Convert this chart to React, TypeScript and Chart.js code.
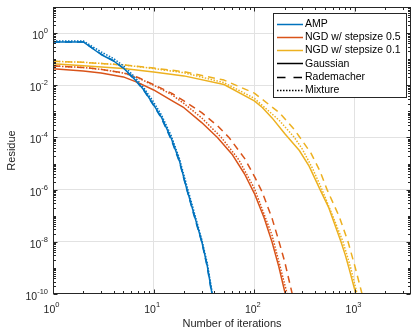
import React, { useEffect, useRef } from "react";
import { Chart, registerables } from "chart.js";

Chart.register(...registerables);

// ---------- data ----------
const AMP_T_GAUSS = [1, 2, 3, 4, 5, 6, 7, 8, 10, 12, 15, 18, 21, 25, 30, 34, 38, 40];
const AMP_R_GAUSS = [0.457, 0.457, 0.151, 0.0851, 0.0457, 0.0229, 0.0123, 0.0066, 1.78e-3, 5.75e-4, 8.9e-5, 1.29e-5, 1.32e-6, 1.26e-7, 1.05e-8, 1.26e-9, 1.0e-10, 2.5e-11];
const AMP_T_RADE = [1, 2, 3, 4, 5, 6, 7, 8, 10, 12, 15, 18, 21, 25, 30, 34, 38, 40];
const AMP_R_RADE = [0.457, 0.457, 0.158, 0.0871, 0.0447, 0.0219, 0.0117, 6.31e-3, 1.66e-3, 5.25e-4, 7.94e-5, 1.17e-5, 1.26e-6, 1.12e-7, 1.0e-8, 1.12e-9, 8.9e-11, 2.5e-11];
const AMP_T_MIX = [1, 2, 3, 4, 5, 6, 7, 8, 10, 12, 15, 18, 21, 25, 30, 34, 38, 40];
const AMP_R_MIX = [0.501, 0.501, 0.191, 0.105, 0.0562, 0.0282, 0.0148, 7.94e-3, 2.24e-3, 7.08e-4, 1.12e-4, 1.58e-5, 1.78e-6, 1.58e-7, 1.26e-8, 1.58e-9, 1.26e-10, 3.16e-11];

const NGD5_T_GAUSS = [1, 2, 3, 5, 7, 10, 15, 20, 30, 43, 60, 80, 100, 125, 150, 175, 203, 215];
const NGD5_R_GAUSS = [0.0427, 0.0355, 0.0295, 0.0209, 0.0126, 6.61e-3, 2.63e-3, 1.38e-3, 3.72e-4, 1e-4, 2.29e-5, 3.98e-6, 7.24e-7, 8.32e-8, 9.77e-9, 1.12e-9, 1e-10, 3.55e-11];
const NGD5_T_RADE = [1, 2, 3, 5, 7, 10, 15, 20, 30, 43, 56, 80, 102, 120, 150, 173, 200, 238, 250];
const NGD5_R_RADE = [0.055, 0.0479, 0.0407, 0.0302, 0.02, 0.0105, 5.01e-3, 2.51e-3, 8.91e-4, 2.82e-4, 1e-4, 1.58e-5, 2.82e-6, 7.94e-7, 7.94e-8, 1.26e-8, 1.78e-9, 1e-10, 3.98e-11];
const NGD5_T_MIX = [1, 2, 3, 5, 7, 10, 15, 20, 30, 47, 70, 100, 150, 212, 222];
const NGD5_R_MIX = [0.055, 0.0479, 0.0407, 0.0295, 0.0191, 0.01, 4.47e-3, 2.0e-3, 5.62e-4, 1e-4, 1.41e-5, 1.12e-6, 1.78e-8, 1e-10, 4.47e-11];

const NGD1_T_GAUSS = [1, 2, 5, 10, 20, 50, 100, 120, 150, 200, 280, 350, 450, 550, 726, 800, 870, 1020, 1080];
const NGD1_R_GAUSS = [0.0661, 0.0562, 0.0437, 0.0324, 0.0229, 0.0107, 2.51e-3, 1.41e-3, 5.62e-4, 1.41e-4, 3.16e-5, 7.94e-6, 1e-6, 2.0e-7, 1e-8, 3.16e-9, 1e-9, 1e-10, 3.98e-11];
const NGD1_T_RADE = [1, 2, 5, 10, 20, 50, 100, 177, 250, 365, 450, 528, 700, 853, 1000, 1175, 1230];
const NGD1_R_RADE = [0.0832, 0.0759, 0.0603, 0.0457, 0.0331, 0.0158, 5.01e-3, 8.91e-4, 2.0e-4, 2.51e-5, 5.01e-6, 1e-6, 8.91e-8, 1e-8, 1.12e-9, 1e-10, 5.01e-11];
const NGD1_T_MIX = [1, 2, 5, 10, 20, 50, 100, 177, 250, 300, 380, 470, 600, 760, 900, 1050, 1100];
const NGD1_R_MIX = [0.0832, 0.0759, 0.0603, 0.0437, 0.0302, 0.0126, 3.16e-3, 4.47e-4, 1e-4, 3.55e-5, 6.31e-6, 1e-6, 1.0e-7, 1e-8, 1.12e-9, 1e-10, 5.01e-11];

const METHOD_LABELS = ["AMP", "NGD w/ stepsize 0.5", "NGD w/ stepsize 0.1"];
const NOISE_LABELS = ["Gaussian", "Rademacher", "Mixture"];

const X_MIN = 1;
const X_MAX = 3600;
const Y_MIN = 1e-10;
const Y_MAX = 10;
const X_MAJOR = [1, 10, 100, 1000];
const X_EXP = ["0", "1", "2", "3"];
const Y_MAJOR = [1e-10, 1e-8, 1e-6, 1e-4, 1e-2, 1];
const Y_EXP = ["-10", "-8", "-6", "-4", "-2", "0"];
const X_TITLE = "Number of iterations";
const Y_TITLE = "Residue";

// ---------- styles ----------
const COLORS = ["#0072BD", "#D95319", "#EDB120"];
const DASHES: number[][] = [[], [7, 5], [1.5, 1.5]];
const LEGEND_DASHES: number[][] = [[], [8.5, 8], [1.5, 1.5]];
const FONT = '"Liberation Sans", Arial, Helvetica, sans-serif';
const AXIS = "#262626";
const GRID = "#e2e2e2";

const pts = (ts: number[], rs: number[]) => ts.map((t, i) => ({ x: t, y: rs[i] }));

const isIn = (list: number[], v: number) => list.some((m) => Math.abs(m - v) / m < 1e-6);

function minorTicks(minExp: number, maxExp: number, lo: number, hi: number) {
  const out: number[] = [];
  for (let e = minExp; e <= maxExp; e++) {
    for (let m = 1; m <= 9; m++) {
      const v = m * Math.pow(10, e);
      if (v >= lo * 0.999 && v <= hi * 1.001) out.push(v);
    }
  }
  return out;
}

function drawPow(ctx: CanvasRenderingContext2D, exp: string, x: number, baseY: number, align: "center" | "right") {
  ctx.font = `10.5px ${FONT}`;
  const w1 = ctx.measureText("10").width;
  ctx.font = `7.5px ${FONT}`;
  const w2 = ctx.measureText(exp).width;
  const total = w1 + w2;
  const sx = align === "center" ? x - total / 2 - 1.5 : x - total;
  ctx.textAlign = "left";
  ctx.textBaseline = "alphabetic";
  ctx.font = `10.5px ${FONT}`;
  ctx.fillText("10", sx, baseY);
  ctx.font = `7.5px ${FONT}`;
  ctx.fillText(exp, sx + w1, baseY - 6);
}

const axesPlugin = {
  id: "matlabAxes",
  afterDatasetsDraw(chart: any) {
    const { ctx, chartArea: a, scales } = chart;
    const xs = scales.x;
    const ys = scales.y;
    const L = Math.floor(a.left) + 0.5;
    const R = Math.floor(a.right) - 0.5;
    const T = Math.floor(a.top) + 0.5;
    const B = Math.floor(a.bottom) - 0.5;
    ctx.save();
    ctx.strokeStyle = AXIS;
    ctx.lineWidth = 1;
    ctx.setLineDash([]);

    const xMinor = minorTicks(0, 3, X_MIN, X_MAX);
    const yMinor = minorTicks(-10, 1, Y_MIN, Y_MAX);
    ctx.beginPath();
    xMinor.forEach((v) => {
      const len = isIn(X_MAJOR, v) ? 4 : 2.5;
      const p = Math.round(xs.getPixelForValue(v)) + 0.5;
      ctx.moveTo(p, B);
      ctx.lineTo(p, B - len);
      ctx.moveTo(p, T);
      ctx.lineTo(p, T + len);
    });
    yMinor.forEach((v) => {
      const len = isIn(Y_MAJOR, v) ? 4 : 2.5;
      const p = Math.round(ys.getPixelForValue(v)) + 0.5;
      ctx.moveTo(L, p);
      ctx.lineTo(L + len, p);
      ctx.moveTo(R, p);
      ctx.lineTo(R - len, p);
    });
    ctx.stroke();
    ctx.strokeRect(L, T, R - L, B - T);

    // tick labels
    ctx.fillStyle = AXIS;
    X_MAJOR.forEach((v, i) => {
      drawPow(ctx, X_EXP[i], xs.getPixelForValue(v), 313, "center");
    });
    Y_MAJOR.forEach((v, i) => {
      drawPow(ctx, Y_EXP[i], 48, ys.getPixelForValue(v) + 6, "right");
    });

    // axis titles
    ctx.font = `11px ${FONT}`;
    ctx.textAlign = "center";
    ctx.textBaseline = "alphabetic";
    ctx.fillText(X_TITLE, (a.left + a.right) / 2, 327);
    ctx.save();
    ctx.translate(15, (a.top + a.bottom) / 2);
    ctx.rotate(-Math.PI / 2);
    ctx.fillText(Y_TITLE, 0, 0);
    ctx.restore();

    // legend
    const lx = 273.5, ly = 13.5, lw = 133, lh = 84;
    ctx.fillStyle = "#ffffff";
    ctx.fillRect(lx, ly, lw, lh);
    ctx.strokeStyle = AXIS;
    ctx.lineWidth = 1;
    ctx.strokeRect(lx, ly, lw, lh);
    const rows: { label: string; color: string; dash: number[] }[] = [];
    METHOD_LABELS.forEach((l, i) => rows.push({ label: l, color: COLORS[i], dash: [] }));
    NOISE_LABELS.forEach((l, i) => rows.push({ label: l, color: "#000000", dash: LEGEND_DASHES[i] }));
    rows.forEach((r, i) => {
      const y = 23.5 + i * 13.3;
      ctx.strokeStyle = r.color;
      ctx.lineWidth = 1.5;
      ctx.setLineDash(r.dash);
      ctx.beginPath();
      ctx.moveTo(277, Math.round(y) + 0.5);
      ctx.lineTo(303, Math.round(y) + 0.5);
      ctx.stroke();
      ctx.setLineDash([]);
      ctx.fillStyle = "#000000";
      ctx.font = `10.5px ${FONT}`;
      ctx.textAlign = "left";
      ctx.textBaseline = "middle";
      ctx.fillText(r.label, 305, y + 0.5);
    });
    ctx.restore();
  },
};

export default function App() {
  const ref = useRef<HTMLCanvasElement>(null);
  useEffect(() => {
    const seriesT = [
      [AMP_T_GAUSS, NGD5_T_GAUSS, NGD1_T_GAUSS],
      [AMP_T_RADE, NGD5_T_RADE, NGD1_T_RADE],
      [AMP_T_MIX, NGD5_T_MIX, NGD1_T_MIX],
    ];
    const seriesR = [
      [AMP_R_GAUSS, NGD5_R_GAUSS, NGD1_R_GAUSS],
      [AMP_R_RADE, NGD5_R_RADE, NGD1_R_RADE],
      [AMP_R_MIX, NGD5_R_MIX, NGD1_R_MIX],
    ];
    const datasets: any[] = [];
    for (let n = 0; n < 3; n++) {
      for (let m = 0; m < 3; m++) {
        datasets.push({
          label: `${METHOD_LABELS[m]} ${NOISE_LABELS[n]}`,
          data: pts(seriesT[n][m], seriesR[n][m]),
          borderColor: COLORS[m],
          backgroundColor: COLORS[m],
          borderWidth: 1.5,
          borderDash: DASHES[n],
          borderCapStyle: "butt",
          borderJoinStyle: "round",
          pointRadius: 0,
          tension: 0,
          fill: false,
          clip: 0,
        });
      }
    }
    const gridColor = (list: number[]) => (c: any) =>
      c.tick && isIn(list, c.tick.value) ? GRID : "rgba(0,0,0,0)";
    const chart = new Chart(ref.current!, {
      type: "line",
      data: { datasets },
      options: {
        animation: false,
        responsive: false,
        devicePixelRatio: 1,
        layout: { padding: { left: 53, right: 3, top: 7, bottom: 36 } },
        plugins: { legend: { display: false }, tooltip: { enabled: false }, title: { display: false } },
        scales: {
          x: {
            type: "logarithmic",
            min: X_MIN,
            max: X_MAX,
            ticks: { display: false },
            grid: { color: gridColor(X_MAJOR.slice(1)), lineWidth: 1, drawTicks: false },
            border: { display: false },
            afterBuildTicks: (s: any) => {
              s.ticks = X_MAJOR.map((v) => ({ value: v }));
            },
            afterFit: (s: any) => {
              s.height = 0;
            },
          },
          y: {
            type: "logarithmic",
            min: Y_MIN,
            max: Y_MAX,
            ticks: { display: false },
            grid: { color: gridColor(Y_MAJOR.slice(1)), lineWidth: 1, drawTicks: false },
            border: { display: false },
            afterBuildTicks: (s: any) => {
              s.ticks = Y_MAJOR.map((v) => ({ value: v }));
            },
            afterFit: (s: any) => {
              s.width = 0;
            },
          },
        },
      },
      plugins: [axesPlugin],
    });
    return () => chart.destroy();
  }, []);
  return (
    <div style={{ position: "absolute", left: 0, top: 0, width: 414, height: 330, background: "#ffffff" }}>
      <canvas ref={ref} width={414} height={330} style={{ display: "block", width: 414, height: 330 }} />
    </div>
  );
}
